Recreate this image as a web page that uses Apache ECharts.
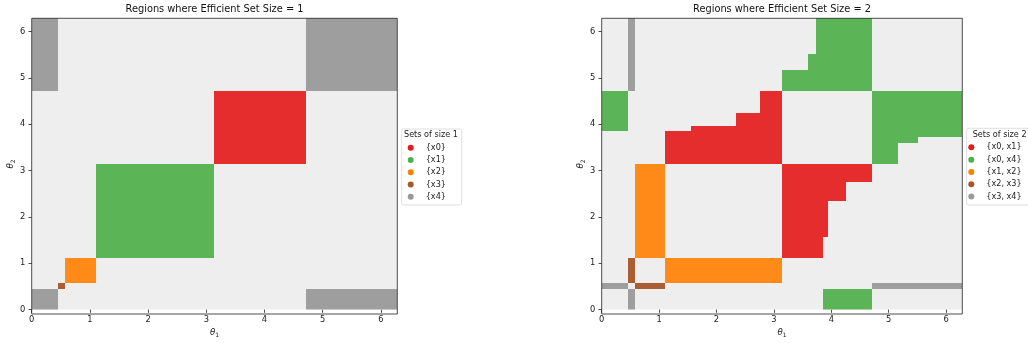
<!DOCTYPE html>
<html>
<head>
<meta charset="utf-8">
<script src="https://cdn.jsdelivr.net/npm/echarts@6/dist/echarts.min.js"></script>
<style>
  html, body { margin: 0; padding: 0; background: #ffffff; }
  #chart { width: 1028px; height: 343px; }
</style>
</head>
<body>
<div id="chart"></div>
<script>
// Angle range of both parameters: [0, 2π]
const THETA_MAX = 6.283;
const tickValues = [0, 1, 2, 3, 4, 5, 6];

// Legend entries
const sizeOneNames = ['{x0}', '{x1}', '{x2}', '{x3}', '{x4}'];
const sizeTwoNames = ['{x0, x1}', '{x0, x4}', '{x1, x2}', '{x2, x3}', '{x3, x4}'];

// Each region: [θ1 from, θ1 to, θ2 from, θ2 to]
// Efficient sets of size 1
const regionsX0 = [[3.14, 4.71, 3.14, 4.71]];
const regionsX1 = [[1.11, 3.14, 1.11, 3.14]];
const regionsX2 = [[0.58, 1.11, 0.58, 1.11]];
const regionsX3 = [[0.45, 0.58, 0.45, 0.58]];
const regionsX4 = [
  [0, 0.45, 4.71, 6.283], [4.71, 6.283, 4.71, 6.283],
  [0, 0.45, 0, 0.45], [4.71, 6.283, 0, 0.45]
];

// Efficient sets of size 2
const regionsX0X1 = [
  [1.11, 1.56, 3.14, 3.85], [1.56, 2.34, 3.14, 3.95],
  [2.34, 2.76, 3.14, 4.25], [2.76, 3.14, 3.14, 4.71],
  [3.14, 3.85, 1.11, 1.56], [3.14, 3.95, 1.56, 2.34],
  [3.14, 4.25, 2.34, 2.76], [3.14, 4.71, 2.76, 3.14]
];
const regionsX0X4 = [
  [0, 0.45, 3.85, 4.71], [3.85, 4.71, 0, 0.45],
  [3.14, 4.71, 4.71, 5.16], [3.60, 4.71, 5.16, 5.51], [3.73, 4.71, 5.51, 6.283],
  [4.71, 5.16, 3.14, 4.71], [5.16, 5.51, 3.60, 4.71], [5.51, 6.283, 3.73, 4.71]
];
const regionsX1X2 = [[0.58, 1.11, 1.11, 3.14], [1.11, 3.14, 0.58, 1.11]];
const regionsX2X3 = [[0.45, 0.58, 0.58, 1.11], [0.58, 1.11, 0.45, 0.58]];
const regionsX3X4 = [
  [0.45, 0.58, 0, 0.45], [0.45, 0.58, 4.71, 6.283],
  [0, 0.45, 0.45, 0.58], [4.71, 6.283, 0.45, 0.58]
];

// Set1 colours for the markers, and the slightly paler tone of the dense fills
const markerColors = ['#e41a1c', '#4daf4a', '#ff7f00', '#a65628', '#999999'];
const fillColors = ['#e62d2d', '#5bb557', '#ff8a18', '#ab5e33', '#9e9e9e'];

const FONT = 'DejaVu Sans, sans-serif';
const INK = '#222222';

const panels = [
  { left: 31.7, top: 18.3, width: 365.6, height: 295.7 },
  { left: 601.7, top: 18.3, width: 360.6, height: 295.7 }
];

function renderRect(params, api) {
  const topLeft = api.coord([api.value(0), api.value(3)]);
  const bottomRight = api.coord([api.value(1), api.value(2)]);
  // whole-pixel edges so touching blocks join without seams
  const x0 = Math.round(topLeft[0]), y0 = Math.round(topLeft[1]);
  const x1 = Math.round(bottomRight[0]), y1 = Math.round(bottomRight[1]);
  return {
    type: 'rect',
    shape: { x: x0, y: y0, width: x1 - x0, height: y1 - y0 },
    style: { fill: api.visual('color') }
  };
}

function regionSeries(name, data, idx, panel) {
  return {
    type: 'custom',
    name: name,
    xAxisIndex: panel, yAxisIndex: panel,
    renderItem: renderRect,
    encode: { x: [0, 1], y: [2, 3] },
    itemStyle: { color: fillColors[idx] },
    clip: true,
    data: data,
    silent: true
  };
}

const thetaRich = {
  i: { fontFamily: FONT, fontStyle: 'italic', fontSize: 8.6, color: INK },
  s: { fontFamily: FONT, fontSize: 6, color: INK, padding: [4, 0, 0, 0] }
};

function xAxisFor(panel) {
  return {
    gridIndex: panel, type: 'value', min: 0, max: THETA_MAX, interval: 1,
    axisLine: { show: false }, splitLine: { show: false },
    axisTick: { show: true, length: 3.2, customValues: tickValues, lineStyle: { color: INK, width: 0.8 } },
    axisLabel: { customValues: tickValues, fontFamily: FONT, fontSize: 8.3, color: INK, margin: 6 },
    name: '{i|θ}{s|1}', nameLocation: 'middle', nameGap: 17,
    nameTextStyle: { rich: thetaRich }
  };
}
function yAxisFor(panel) {
  return {
    gridIndex: panel, type: 'value', min: 0, max: THETA_MAX, interval: 1,
    axisLine: { show: false }, splitLine: { show: false },
    axisTick: { show: true, length: 3.2, customValues: tickValues, lineStyle: { color: INK, width: 0.8 } },
    axisLabel: { customValues: tickValues, fontFamily: FONT, fontSize: 8.3, color: INK, margin: 6.5 },
    name: '{i|θ}{s|2}', nameLocation: 'middle', nameGap: 14,
    nameTextStyle: { rich: thetaRich }
  };
}

function legendFor(names, left, top) {
  return {
    orient: 'vertical', left: left, top: top,
    itemWidth: 20, itemHeight: 6, itemGap: 0, icon: 'circle',
    padding: 0, selectedMode: false,
    data: names.map((n, i) => ({ name: n, itemStyle: { color: markerColors[i] } })),
    textStyle: { fontFamily: FONT, fontSize: 8.1, color: INK, lineHeight: 12.3, padding: [0, 0, 0, 0] }
  };
}

const series = [
  regionSeries(sizeOneNames[0], regionsX0, 0, 0),
  regionSeries(sizeOneNames[1], regionsX1, 1, 0),
  regionSeries(sizeOneNames[2], regionsX2, 2, 0),
  regionSeries(sizeOneNames[3], regionsX3, 3, 0),
  regionSeries(sizeOneNames[4], regionsX4, 4, 0),
  regionSeries(sizeTwoNames[0], regionsX0X1, 0, 1),
  regionSeries(sizeTwoNames[1], regionsX0X4, 1, 1),
  regionSeries(sizeTwoNames[2], regionsX1X2, 2, 1),
  regionSeries(sizeTwoNames[3], regionsX2X3, 3, 1),
  regionSeries(sizeTwoNames[4], regionsX3X4, 4, 1)
];

const graphics = [];
panels.forEach((p, i) => {
  // frame drawn above the filled regions
  graphics.push({
    type: 'rect', z: 100, silent: true,
    shape: { x: p.left, y: p.top, width: p.width, height: p.height },
    style: { fill: null, stroke: INK, lineWidth: 0.8 }
  });
  graphics.push({
    type: 'text', z: 100, silent: true,
    x: p.left + p.width / 2, y: 9.5,
    style: {
      text: 'Regions where Efficient Set Size = ' + (i + 1),
      fontFamily: FONT, fontSize: 9.8, fill: '#111111',
      textAlign: 'center', textVerticalAlign: 'middle'
    }
  });
});
// legend frames and titles
graphics.push({
  type: 'rect', z: 1, silent: true,
  shape: { x: 401.7, y: 129, width: 60, height: 76, r: 2 },
  style: { fill: '#ffffff', stroke: '#d6d6d6', lineWidth: 0.8 }
});
graphics.push({
  type: 'text', z: 2, silent: true, x: 404, y: 134.5,
  style: { text: 'Sets of size 1', fontFamily: FONT, fontSize: 8.1, fill: INK, textVerticalAlign: 'middle' }
});
graphics.push({
  type: 'rect', z: 1, silent: true,
  shape: { x: 966.7, y: 128.3, width: 80, height: 76.7, r: 2 },
  style: { fill: '#ffffff', stroke: '#d6d6d6', lineWidth: 0.8 }
});
graphics.push({
  type: 'text', z: 2, silent: true, x: 972.7, y: 134.5,
  style: { text: 'Sets of size 2', fontFamily: FONT, fontSize: 8.1, fill: INK, textVerticalAlign: 'middle' }
});

const option = {
  animation: false,
  backgroundColor: '#ffffff',
  grid: panels.map(p => ({
    left: p.left, top: p.top, width: p.width, height: p.height,
    show: true, backgroundColor: '#eeeeee', borderWidth: 0
  })),
  xAxis: [xAxisFor(0), xAxisFor(1)],
  yAxis: [yAxisFor(0), yAxisFor(1)],
  legend: [
    legendFor(sizeOneNames, 407.7, 141.5),
    legendFor(sizeTwoNames, 968.3, 141.2)
  ],
  graphic: { elements: graphics },
  series: series
};

const chart = echarts.init(document.getElementById('chart'), null, { renderer: 'canvas' });
chart.setOption(option);
</script>
</body>
</html>
